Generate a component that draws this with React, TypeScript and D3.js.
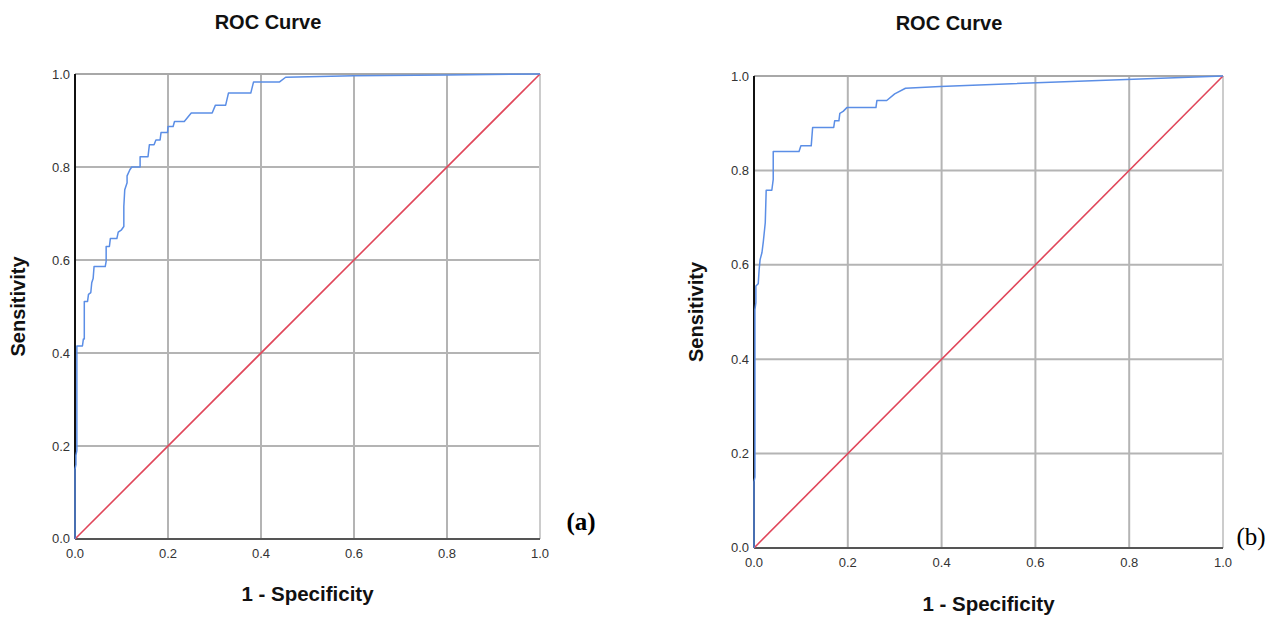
import React from "react";
import * as d3 from "d3";

const ticks = [0, 0.2, 0.4, 0.6, 0.8, 1.0];
const tickLabels = ["0.0", "0.2", "0.4", "0.6", "0.8", "1.0"];

// Panel (a) ROC curve: 1 - specificity / sensitivity
const fprA = [0, 0, 0.002, 0.002, 0.004, 0.004, 0.016, 0.018, 0.02, 0.02, 0.027, 0.029, 0.034, 0.036, 0.039, 0.041, 0.065, 0.067, 0.067, 0.074, 0.076, 0.09, 0.093, 0.1, 0.105, 0.105, 0.107, 0.112, 0.112, 0.118, 0.122, 0.14, 0.14, 0.157, 0.16, 0.17, 0.174, 0.183, 0.185, 0.199, 0.2, 0.211, 0.214, 0.235, 0.25, 0.295, 0.302, 0.324, 0.33, 0.378, 0.384, 0.44, 0.453, 0.6, 0.8, 1];
const tprA = [0, 0.15, 0.16, 0.18, 0.19, 0.415, 0.415, 0.43, 0.43, 0.511, 0.511, 0.526, 0.53, 0.551, 0.56, 0.586, 0.586, 0.597, 0.629, 0.629, 0.646, 0.646, 0.66, 0.665, 0.672, 0.715, 0.751, 0.766, 0.781, 0.794, 0.8, 0.8, 0.822, 0.822, 0.848, 0.848, 0.858, 0.858, 0.874, 0.874, 0.887, 0.887, 0.898, 0.898, 0.916, 0.916, 0.933, 0.933, 0.959, 0.959, 0.983, 0.983, 0.993, 0.996, 0.998, 1];

// Panel (b)
const fprB = [0, 0, 0.002, 0.002, 0.004, 0.004, 0.009, 0.011, 0.013, 0.017, 0.02, 0.024, 0.026, 0.038, 0.041, 0.041, 0.096, 0.1, 0.122, 0.125, 0.17, 0.172, 0.181, 0.183, 0.19, 0.198, 0.26, 0.262, 0.283, 0.3, 0.323, 0.397, 1];
const tprB = [0, 0.14, 0.15, 0.505, 0.52, 0.555, 0.56, 0.59, 0.611, 0.626, 0.65, 0.689, 0.758, 0.758, 0.781, 0.84, 0.84, 0.852, 0.852, 0.891, 0.891, 0.905, 0.905, 0.921, 0.925, 0.933, 0.933, 0.948, 0.948, 0.962, 0.974, 0.978, 1];

const refLine = [0, 1];

type PanelProps = {
  x0: number; x1: number; y0: number; y1: number;
  fpr: number[]; tpr: number[];
  titleX: number; titleY: number; xTitleY: number; yTitleX: number;
  tag: string; tagX: number; tagY: number; tagBold: boolean;
};

const FONT = "'Liberation Sans', Arial, sans-serif";

function Panel(p: PanelProps) {
  const x = d3.scaleLinear().domain([0, 1]).range([p.x0, p.x1]);
  const y = d3.scaleLinear().domain([0, 1]).range([p.y0, p.y1]);
  const pts: [number, number][] = p.fpr.map((f, i) => [f, p.tpr[i]]);
  const line = d3.line<[number, number]>().x(d => x(d[0])).y(d => y(d[1]));
  const cx = (p.x0 + p.x1) / 2;
  const cy = (p.y0 + p.y1) / 2;
  return (
    <g>
      <text x={p.titleX} y={p.titleY} textAnchor="middle" fontFamily={FONT} fontWeight="bold" fontSize={20} fill="#111">ROC Curve</text>
      {ticks.slice(1, 5).map(t => (
        <line key={"gx" + t} x1={x(t)} x2={x(t)} y1={y(0)} y2={y(1)} stroke="#b4b4b4" strokeWidth={2} />
      ))}
      {ticks.slice(1, 5).map(t => (
        <line key={"gy" + t} x1={x(0)} x2={x(1)} y1={y(t)} y2={y(t)} stroke="#b4b4b4" strokeWidth={2} />
      ))}
      <line x1={x(0)} x2={x(1)} y1={y(1)} y2={y(1)} stroke="#a8a8a8" strokeWidth={2} />
      <line x1={x(1)} x2={x(1)} y1={y(0)} y2={y(1)} stroke="#cccccc" strokeWidth={2} />
      <line x1={x(0)} x2={x(1)} y1={y(0)} y2={y(0)} stroke="#555" strokeWidth={2} />
      <line x1={x(0)} x2={x(0)} y1={y(0)} y2={y(1)} stroke="#111" strokeWidth={2} />
      <line x1={x(refLine[0])} y1={y(refLine[0])} x2={x(refLine[1])} y2={y(refLine[1])} stroke="#e0465a" strokeWidth={1.6} />
      <path d={line(pts) || ""} fill="none" stroke="#5b8ee6" strokeWidth={1.5} strokeLinejoin="round" />
      {ticks.map((t, i) => (
        <text key={"tx" + t} x={x(t)} y={p.y0 + 19} textAnchor="middle" fontFamily={FONT} fontSize={13} fill="#333">{tickLabels[i]}</text>
      ))}
      {ticks.map((t, i) => (
        <text key={"ty" + t} x={p.x0 - 5} y={y(t) + (t === 0 ? 4 : 4.5)} textAnchor="end" fontFamily={FONT} fontSize={13} fill="#333">{tickLabels[i]}</text>
      ))}
      <text x={cx} y={p.xTitleY} textAnchor="middle" fontFamily={FONT} fontWeight="bold" fontSize={20.5} fill="#111">1 - Specificity</text>
      <text transform={`translate(${p.yTitleX},${cy}) rotate(-90)`} textAnchor="middle" fontFamily={FONT} fontWeight="bold" fontSize={20} fill="#111">Sensitivity</text>
      <text x={p.tagX} y={p.tagY} textAnchor="middle" fontFamily="'Liberation Serif', 'Times New Roman', serif" fontWeight={p.tagBold ? "bold" : "normal"} fontSize={25} fill="#000">{p.tag}</text>
    </g>
  );
}

export default function App() {
  return (
    <svg width={1277} height={617} style={{ position: "absolute", left: 0, top: 0, background: "#fff" }}>
      <rect x={0} y={0} width={1277} height={617} fill="#fff" />
      <Panel x0={75} x1={540} y0={539} y1={74} fpr={fprA} tpr={tprA} titleX={268} titleY={29} xTitleY={601} yTitleX={25} tag="(a)" tagX={581} tagY={530} tagBold={true} />
      <Panel x0={754} x1={1223} y0={548} y1={76} fpr={fprB} tpr={tprB} titleX={949} titleY={30} xTitleY={611} yTitleX={703} tag="(b)" tagX={1251} tagY={545} tagBold={false} />
    </svg>
  );
}
